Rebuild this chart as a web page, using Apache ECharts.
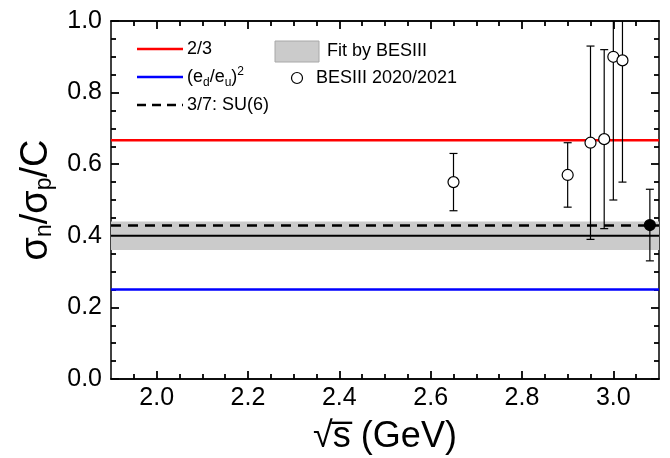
<!DOCTYPE html>
<html>
<head>
<meta charset="utf-8">
<script src="https://cdn.jsdelivr.net/npm/echarts@6/dist/echarts.min.js"></script>
<style>html,body{margin:0;padding:0;background:#fff}#c{width:670px;height:458px}</style>
</head>
<body>
<div id="c"></div>
<script>
// ---- data ----
const xRange = [1.9, 3.1];
const yRange = [0.0, 1.0];
const xMajorTicks = [2.0, 2.2, 2.4, 2.6, 2.8, 3.0];
const xMinorTicks = [1.95, 2.05, 2.1, 2.15, 2.25, 2.3, 2.35, 2.45, 2.5, 2.55, 2.65, 2.7, 2.75, 2.85, 2.9, 2.95, 3.05];
const refTwoThirds = 2 / 3;
const refEdEu2 = 0.25;
const refSU6 = 3 / 7;
const fitCentral = 0.40;
const fitBand = [0.36, 0.44];
// BESIII 2020/2021 (open circles)
const besX = [2.65, 2.90, 2.95, 2.98, 3.00, 3.02];
const besY = [0.55, 0.57, 0.66, 0.67, 0.90, 0.89];
const besLo = [0.47, 0.48, 0.39, 0.42, 0.50, 0.55];
const besHi = [0.63, 0.66, 0.93, 0.92, 1.30, 1.23];
// filled point
const fillX = [3.08];
const fillY = [0.43];
const fillLo = [0.33];
const fillHi = [0.53];

const FONT = 'Liberation Sans, Arial, sans-serif';
const chart = echarts.init(document.getElementById('c'));

function hline(v) { return [[xRange[0], v], [xRange[1], v]]; }
function pts(xs, ys, lo, hi) { return xs.map((x, i) => [x, ys[i], lo[i], hi[i]]); }

function errRender(params, api) {
  const x = api.value(0), lo = api.value(2), hi = api.value(3);
  const cs = params.coordSys;
  const pLo = api.coord([x, lo]);
  const pHi = api.coord([x, hi]);
  const top = Math.max(pHi[1], cs.y);
  const bot = Math.min(pLo[1], cs.y + cs.height);
  const st = {stroke: '#000', lineWidth: 1.2};
  const ch = [{type: 'line', shape: {x1: pLo[0], y1: bot, x2: pLo[0], y2: top}, style: st}];
  if (pHi[1] >= cs.y) ch.push({type: 'line', shape: {x1: pHi[0] - 4, y1: pHi[1], x2: pHi[0] + 4, y2: pHi[1]}, style: st});
  if (pLo[1] <= cs.y + cs.height) ch.push({type: 'line', shape: {x1: pLo[0] - 4, y1: pLo[1], x2: pLo[0] + 4, y2: pLo[1]}, style: st});
  return {type: 'group', children: ch};
}

const axisLineStyle = {show: true, onZero: false, lineStyle: {color: '#000', width: 1.5}};
function xAxisDef(pos, ticks, len, labels) {
  return {
    type: 'value', position: pos, min: xRange[0], max: xRange[1],
    axisLine: axisLineStyle,
    axisTick: {show: true, inside: true, length: len, customValues: ticks, lineStyle: {color: '#000', width: 1.8}},
    axisLabel: labels ? {show: true, customValues: xMajorTicks, color: '#000', fontSize: 25, fontFamily: FONT, margin: 7,
      formatter: v => v.toFixed(1)} : {show: false},
    splitLine: {show: false},
    name: labels ? '√s\u0305 (GeV)' : '', nameLocation: 'middle', nameGap: 40,
    nameTextStyle: {color: '#000', fontSize: 36, fontFamily: FONT}
  };
}
function yAxisDef(pos, labels) {
  return {
    type: 'value', position: pos, min: yRange[0], max: yRange[1], interval: 0.2,
    axisLine: axisLineStyle,
    axisTick: {show: true, inside: true, length: 8, lineStyle: {color: '#000', width: 1.8}},
    minorTick: {show: true, splitNumber: 4, length: 5, lineStyle: {color: '#000', width: 1.8}},
    axisLabel: labels ? {show: true, color: '#000', fontSize: 25, fontFamily: FONT, margin: 9,
      formatter: v => v.toFixed(1)} : {show: false},
    splitLine: {show: false},
    name: labels ? 'σ{sub|n}/σ{sub|p}/C' : '', nameLocation: 'middle', nameGap: 50, nameRotate: 90,
    nameTextStyle: {color: '#000', fontSize: 38, fontFamily: FONT,
      rich: {sub: {fontSize: 23, fontFamily: FONT, color: '#000', verticalAlign: 'bottom', padding: [16, 0, 0, 0]}}}
  };
}

const legendFont = {fontSize: 18, fontFamily: FONT, fill: '#000'};

const option = {
  animation: false,
  grid: {left: 111, right: 11, top: 21, bottom: 79, outerBoundsMode: 'none'},
  xAxis: [
    xAxisDef('bottom', xMajorTicks, 8, true),
    xAxisDef('bottom', xMinorTicks, 5, false),
    xAxisDef('top', xMajorTicks, 8, false),
    xAxisDef('top', xMinorTicks, 5, false)
  ],
  yAxis: [yAxisDef('left', true), yAxisDef('right', false)],
  series: [
    {type: 'line', name: 'Fit by BESIII', data: hline(fitCentral), symbol: 'none', z: 3,
      lineStyle: {color: '#000', width: 2}, silent: true,
      markArea: {silent: true, itemStyle: {color: '#cbcbcb'}, data: [[{yAxis: fitBand[0]}, {yAxis: fitBand[1]}]]}},
    {type: 'line', name: '2/3', data: hline(refTwoThirds), symbol: 'none', z: 3, lineStyle: {color: '#ff0000', width: 2.5}},
    {type: 'line', name: '(ed/eu)^2', data: hline(refEdEu2), symbol: 'none', z: 3, lineStyle: {color: '#0000ff', width: 2.5}},
    {type: 'line', name: '3/7: SU(6)', data: hline(refSU6), symbol: 'none', z: 3, lineStyle: {color: '#000', width: 2.5, type: [10, 7]}},
    {type: 'custom', name: 'err1', data: pts(besX, besY, besLo, besHi), renderItem: errRender, z: 4, clip: true},
    {type: 'custom', name: 'err2', data: pts(fillX, fillY, fillLo, fillHi), renderItem: errRender, z: 4, clip: true},
    {type: 'scatter', name: 'BESIII 2020/2021', data: pts(besX, besY, besLo, besHi), symbol: 'circle', symbolSize: 11, z: 5,
      itemStyle: {color: '#fff', borderColor: '#000', borderWidth: 1.2, opacity: 1}},
    {type: 'scatter', name: 'filled', data: pts(fillX, fillY, fillLo, fillHi), symbol: 'circle', symbolSize: 11, z: 5,
      itemStyle: {color: '#000', borderColor: '#000', borderWidth: 1.2, opacity: 1}}
  ],
  graphic: [
    {type: 'line', shape: {x1: 137, y1: 49, x2: 183, y2: 49}, style: {stroke: '#ff0000', lineWidth: 2.5}},
    {type: 'text', x: 187, y: 49, style: Object.assign({text: '2/3', verticalAlign: 'middle'}, legendFont)},
    {type: 'line', shape: {x1: 137, y1: 77, x2: 183, y2: 77}, style: {stroke: '#0000ff', lineWidth: 2.5}},
    {type: 'text', x: 187, y: 77, style: Object.assign({
      text: '(e{sub|d}/e{sub|u}){sup|2}', verticalAlign: 'middle',
      rich: {sub: {fontSize: 12, fontFamily: FONT, fill: '#000', padding: [11, 0, 0, 0]},
             sup: {fontSize: 12, fontFamily: FONT, fill: '#000', padding: [0, 0, 11, 0]}}}, legendFont)},
    {type: 'line', shape: {x1: 137, y1: 105, x2: 183, y2: 105}, style: {stroke: '#000', lineWidth: 2.5, lineDash: [9, 6]}},
    {type: 'text', x: 187, y: 105, style: Object.assign({text: '3/7: SU(6)', verticalAlign: 'middle'}, legendFont)},
    {type: 'rect', shape: {x: 275, y: 41, width: 44, height: 21}, style: {fill: '#cbcbcb', stroke: '#a8a8a8', lineWidth: 1}},
    {type: 'text', x: 327, y: 51, style: Object.assign({text: 'Fit by BESIII', verticalAlign: 'middle'}, legendFont)},
    {type: 'circle', shape: {cx: 297, cy: 78, r: 5.5}, style: {fill: '#fff', stroke: '#000', lineWidth: 1.2}},
    {type: 'text', x: 316, y: 78, style: Object.assign({text: 'BESIII 2020/2021', verticalAlign: 'middle'}, legendFont)}
  ]
};
chart.setOption(option);
</script>
</body>
</html>
